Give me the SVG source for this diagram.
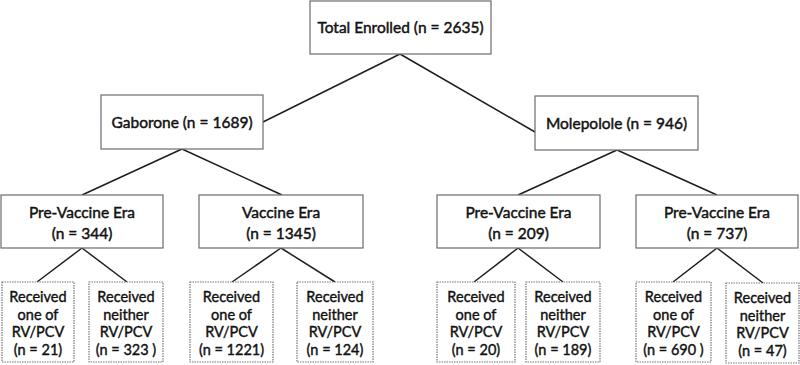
<svg xmlns="http://www.w3.org/2000/svg" width="800" height="365" viewBox="0 0 800 365">
<style>
.box{fill:#fff;stroke:#6b6b6b;stroke-width:1.2}
.leaf{fill:#fff;stroke:#777;stroke-width:1.2;stroke-dasharray:1.5 1}
.t{font-family:Lato,"Open Sans","Liberation Sans",sans-serif;fill:#111;stroke:#111;stroke-width:0.45;text-anchor:middle;font-size:15.5px}
.s{font-family:Lato,"Open Sans","Liberation Sans",sans-serif;fill:#111;stroke:#111;stroke-width:0.4;text-anchor:middle;font-size:14.5px}
.c line{stroke:#1e1e1e;stroke-width:1.5}
</style>
<rect width="800" height="365" fill="#fff"/>
<g class="c" id="connectors">
<line x1="400" y1="54" x2="263" y2="122"/>
<line x1="400" y1="54" x2="535" y2="132"/>
<line x1="182" y1="149" x2="82" y2="195"/>
<line x1="182" y1="149" x2="282" y2="195"/>
<line x1="617" y1="150" x2="518" y2="195"/>
<line x1="617" y1="150" x2="717" y2="195"/>
<line x1="82" y1="248" x2="37" y2="282"/>
<line x1="82" y1="248" x2="127" y2="282"/>
<line x1="281" y1="248" x2="232" y2="282"/>
<line x1="281" y1="248" x2="335" y2="282"/>
<line x1="518" y1="248" x2="474" y2="282"/>
<line x1="518" y1="248" x2="563" y2="282"/>
<line x1="717" y1="248" x2="673" y2="282"/>
<line x1="717" y1="248" x2="763" y2="283"/>
</g>
<g id="total"><rect class="box" x="310" y="1" width="181" height="53"/><text class="t" x="400.5" y="33">Total Enrolled (n = 2635)</text></g>
<g id="gaborone"><rect class="box" x="101" y="95" width="162" height="54"/><text class="t" x="182" y="128">Gaborone (n = 1689)</text></g>
<g id="molepolole"><rect class="box" x="535" y="96" width="163" height="54"/><text class="t" x="616.5" y="129">Molepolole (n = 946)</text></g>
<g id="gab-pre"><rect class="box" x="1" y="195" width="162" height="53"/><text class="t" x="82" y="218">Pre-Vaccine Era</text><text class="t" x="82" y="239">(n = 344)</text></g>
<g id="gab-vac"><rect class="box" x="199" y="195" width="164" height="53"/><text class="t" x="281" y="218">Vaccine Era</text><text class="t" x="281" y="239">(n = 1345)</text></g>
<g id="mol-pre1"><rect class="box" x="437" y="195" width="163" height="53"/><text class="t" x="518.5" y="218">Pre-Vaccine Era</text><text class="t" x="518.5" y="239">(n = 209)</text></g>
<g id="mol-pre2"><rect class="box" x="636" y="195" width="162" height="53"/><text class="t" x="717" y="218">Pre-Vaccine Era</text><text class="t" x="717" y="239">(n = 737)</text></g>
<g id="l1"><rect class="leaf" x="2" y="282" width="72" height="80"/><text class="s" x="38" y="302">Received</text><text class="s" x="38" y="320">one of</text><text class="s" x="38" y="337">RV/PCV</text><text class="s" x="38" y="355">(n = 21)</text></g>
<g id="l2"><rect class="leaf" x="89" y="282" width="74" height="80"/><text class="s" x="126" y="302">Received</text><text class="s" x="126" y="320">neither</text><text class="s" x="126" y="337">RV/PCV</text><text class="s" x="126" y="355">(n = 323 )</text></g>
<g id="l3"><rect class="leaf" x="190" y="282" width="83" height="80"/><text class="s" x="231.5" y="302">Received</text><text class="s" x="231.5" y="320">one of</text><text class="s" x="231.5" y="337">RV/PCV</text><text class="s" x="231.5" y="355">(n = 1221)</text></g>
<g id="l4"><rect class="leaf" x="297" y="282" width="76" height="80"/><text class="s" x="335" y="302">Received</text><text class="s" x="335" y="320">neither</text><text class="s" x="335" y="337">RV/PCV</text><text class="s" x="335" y="355">(n = 124)</text></g>
<g id="l5"><rect class="leaf" x="437" y="282" width="78" height="80"/><text class="s" x="476" y="302">Received</text><text class="s" x="476" y="320">one of</text><text class="s" x="476" y="337">RV/PCV</text><text class="s" x="476" y="355">(n = 20)</text></g>
<g id="l6"><rect class="leaf" x="526" y="282" width="74" height="80"/><text class="s" x="563" y="302">Received</text><text class="s" x="563" y="320">neither</text><text class="s" x="563" y="337">RV/PCV</text><text class="s" x="563" y="355">(n = 189)</text></g>
<g id="l7"><rect class="leaf" x="636" y="282" width="75" height="80"/><text class="s" x="673.5" y="302">Received</text><text class="s" x="673.5" y="320">one of</text><text class="s" x="673.5" y="337">RV/PCV</text><text class="s" x="673.5" y="355">(n = 690 )</text></g>
<g id="l8"><rect class="leaf" x="726" y="283" width="73" height="80"/><text class="s" x="762.5" y="303">Received</text><text class="s" x="762.5" y="321">neither</text><text class="s" x="762.5" y="338">RV/PCV</text><text class="s" x="762.5" y="356">(n = 47)</text></g>
</svg>
